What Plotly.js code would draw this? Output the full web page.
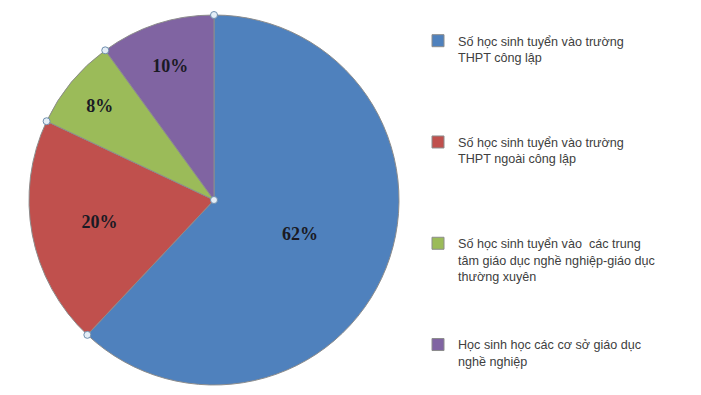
<!DOCTYPE html>
<html>
<head>
<meta charset="utf-8">
<script src="https://cdn.plot.ly/plotly-3.0.1.min.js"></script>
<style>html,body{margin:0;padding:0;background:#fff;}#chart{width:701px;height:395px;}</style>
</head>
<body>
<div id="chart"></div>
<script>
const categories = [
  "Số học sinh tuyển vào trường<br>THPT công lập",
  "Số học sinh tuyển vào trường<br>THPT ngoài công lập",
  "Số học sinh tuyển vào  các trung<br>tâm giáo dục nghề nghiệp-giáo dục<br>thường xuyên",
  "Học sinh học các cơ sở giáo dục<br>nghề nghiệp"
];
const values = [62, 20, 8, 10];
const colors = ["#4F81BD", "#C0504D", "#9BBB59", "#8064A2"];

const W = 701, H = 395;
// pie placement (pixels)
const pieLeft = 29, pieRight = 399, pieTop = 15, pieBottom = 385;

// pad legend entries so they are spread evenly like the original
const padLines = [4, 4, 3, 0];
const legendNames = categories.map((c, i) => c + "<br>\u00a0".repeat(padLines[i]));

const trace = {
  type: "pie",
  labels: legendNames,
  values: values,
  sort: false,
  direction: "clockwise",
  rotation: 0,
  marker: { colors: colors, line: { color: "#8c8c8c", width: 1 } },
  textinfo: "percent",
  textposition: "inside",
  insidetextorientation: "horizontal",
  textfont: { family: "Liberation Serif, Times New Roman, serif", size: 18, color: "#1a1a24", weight: "bold" },
  hoverinfo: "none",
  domain: { x: [pieLeft/W, pieRight/W], y: [(H-pieBottom)/H, (H-pieTop)/H] }
};

// selection handles at slice boundaries and centre (derived from the data)
const total = values.reduce((a, b) => a + b, 0);
const cx = (pieLeft + pieRight) / 2 / W, cy = 1 - (pieTop + pieBottom) / 2 / H;
const Rpx = (pieRight - pieLeft) / 2;
const shapes = [];
function handle(px, py) {
  shapes.push({
    type: "circle", xref: "paper", yref: "paper",
    xsizemode: "pixel", ysizemode: "pixel",
    xanchor: px, yanchor: py, x0: -3.5, x1: 3.5, y0: -3.5, y1: 3.5,
    fillcolor: "#e4eef7", line: { color: "#6f8fae", width: 1 }
  });
}
let cum = 0;
values.forEach(v => {
  const th = 2 * Math.PI * cum / total;
  handle(cx + Rpx * Math.sin(th) / W, cy + Rpx * Math.cos(th) / H);
  cum += v;
});
handle(cx, cy);

const layout = {
  width: W, height: H,
  margin: { l: 0, r: 0, t: 0, b: 0 },
  paper_bgcolor: "#fff",
  showlegend: true,
  legend: {
    x: 418/W, xanchor: "left",
    y: 1 - 26/H, yanchor: "top",
    valign: "top",
    font: { family: "Liberation Sans, Arial, sans-serif", size: 12.6, color: "#404040" },
    itemwidth: 30,
    tracegroupgap: 0,
    bgcolor: "rgba(0,0,0,0)"
  },
  shapes: shapes
};

Plotly.newPlot("chart", [trace], layout, { staticPlot: true });
</script>
</body>
</html>
